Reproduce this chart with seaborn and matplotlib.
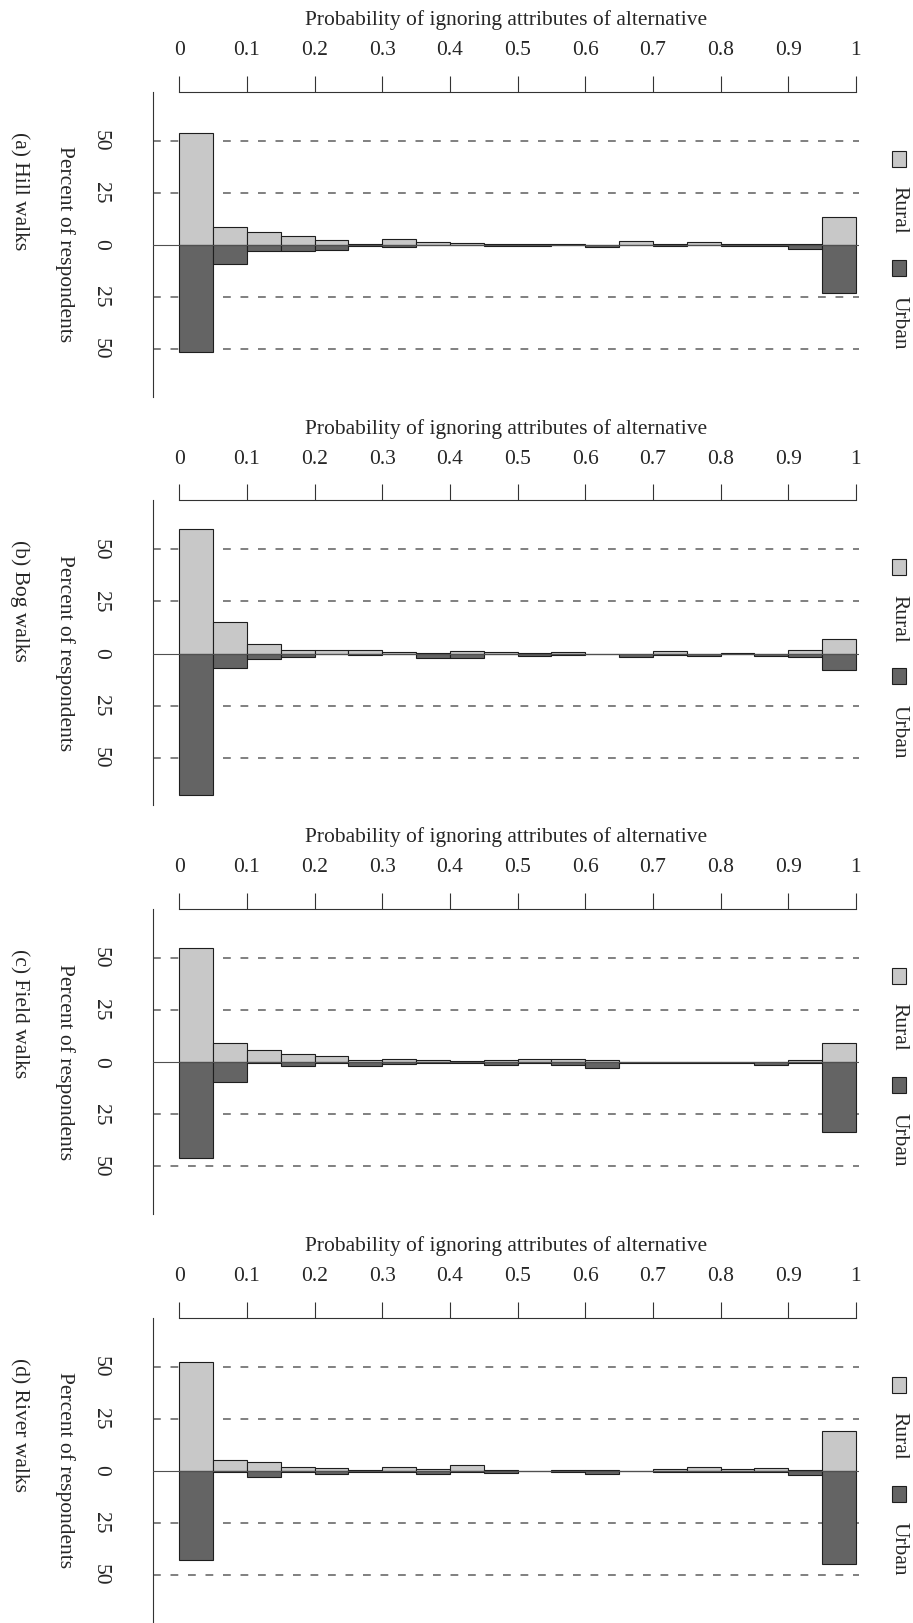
import numpy as np
import pandas as pd
import matplotlib
matplotlib.use("Agg")
import matplotlib.pyplot as plt
from matplotlib.patches import Rectangle
import seaborn as sns

sns.set_style("white")
plt.rcParams["font.family"] = ["Liberation Serif", "DejaVu Serif"]

# histogram bins (probability of ignoring attributes), width 0.05
bin_width = 0.05
bin_mids = np.round(np.arange(0.025, 1.0, bin_width), 3)

# percent of respondents per bin
hill_rural = [53.5, 8.5, 6.1, 4.2, 2.2, 0.6, 2.7, 1.3, 0.8, 0.5, 0.5, 0.4, 0.0, 1.6, 0.3, 1.3, 0.5, 0.5, 0.3, 13.3]
hill_urban = [51.6, 9.3, 3.2, 3.2, 2.6, 0.7, 1.1, 0.3, 0.3, 0.4, 0.4, 0.3, 1.1, 0.2, 0.6, 0.3, 0.6, 0.5, 2.1, 23.2]
bog_rural = [60.0, 15.3, 4.5, 1.9, 1.6, 1.6, 0.6, 0.3, 1.0, 0.5, 0.3, 0.5, 0.0, 0.0, 1.0, 0.0, 0.3, 0.0, 1.6, 6.9]
bog_urban = [68.0, 7.0, 2.6, 1.6, 0.3, 0.6, 0.3, 2.2, 2.2, 0.3, 1.3, 0.5, 0.0, 1.6, 0.6, 1.3, 0.3, 1.3, 1.6, 8.0]
field_rural = [54.9, 9.1, 5.9, 4.0, 3.2, 1.1, 1.6, 1.1, 0.6, 1.1, 1.6, 1.6, 1.0, 0.0, 0.2, 0.2, 0.2, 0.0, 1.1, 9.4]
field_urban = [45.9, 9.6, 0.6, 1.8, 0.3, 1.8, 0.8, 0.3, 0.5, 1.3, 0.5, 1.3, 2.7, 0.6, 0.2, 0.2, 0.2, 1.3, 0.3, 33.4]
river_rural = [52.2, 5.4, 4.5, 1.8, 1.6, 0.5, 1.8, 1.1, 2.9, 0.6, 0.2, 0.3, 0.6, 0.0, 1.1, 1.9, 1.1, 1.6, 0.6, 19.0]
river_urban = [42.9, 0.3, 2.7, 0.3, 1.3, 0.6, 0.3, 1.3, 0.3, 0.8, 0.2, 0.6, 1.3, 0.0, 0.6, 0.3, 0.6, 0.3, 1.8, 44.5]

captions = ["(a) Hill walks", "(b) Bog walks", "(c) Field walks", "(d) River walks"]
panels = [(hill_rural, hill_urban), (bog_rural, bog_urban),
          (field_rural, field_urban), (river_rural, river_urban)]

x_ticks = np.round(np.arange(0, 1.0001, 0.1), 1)
x_ticklabels = ["0"] + ["%.1f" % t for t in x_ticks[1:-1]] + ["1"]
y_ticks = [-50, -25, 0, 25, 50]
y_ticklabels = ["50", "25", "0", "25", "50"]
grid_levels = [-50, -25, 25, 50]

rural_col = "#c8c8c8"
urban_col = "#646464"
edge_col = "#1e1e1e"
axis_col = "#333333"
fs = 15.5

W, H = 913, 1623
fig = plt.figure(figsize=(W / 100, H / 100), dpi=100)


def fx(px):
    return px / W


def fy(py):
    return 1 - py / H


x0_px, x1_px, ax_left, ax_right = 179.3, 855.9, 153.3, 859.0
px_per = x1_px - x0_px
xlim = ((ax_left - x0_px) / px_per, (ax_right - x0_px) / px_per)

for k, ((rural, urban), cap) in enumerate(zip(panels, captions)):
    top = 91.7 + k * 408.7
    bottom = top + 305
    ax = fig.add_axes([fx(ax_left), fy(bottom), (ax_right - ax_left) / W, 305 / H])

    df = pd.DataFrame({"p": bin_mids, "rural": rural, "urban": -np.array(urban)})

    for lev in grid_levels:
        ax.axhline(lev, color="#808080", lw=1.4, linestyle=(0, (4, 5)), zorder=0)

    sns.histplot(data=df, x="p", weights="rural", binwidth=bin_width, binrange=(0, 1),
                 color=rural_col, edgecolor=edge_col, linewidth=0.8, alpha=1, ax=ax, zorder=2)
    sns.histplot(data=df, x="p", weights="urban", binwidth=bin_width, binrange=(0, 1),
                 color=urban_col, edgecolor=edge_col, linewidth=0.8, alpha=1, ax=ax, zorder=3)
    ax.axhline(0, color="#505050", lw=0.8, zorder=4)

    ax.set_xlim(*xlim)
    ax.set_ylim(-72.9, 73.5)

    for s in ["bottom", "right"]:
        ax.spines[s].set_visible(False)
    ax.spines["top"].set_bounds(0, 1)
    for s in ["top", "left"]:
        ax.spines[s].set_color(axis_col)
        ax.spines[s].set_linewidth(0.8)

    ax.xaxis.tick_top()
    ax.set_xticks(x_ticks)
    ax.set_xticklabels(x_ticklabels)
    ax.xaxis.set_label_position("top")
    ax.set_xlabel("Probability of ignoring attributes of alternative", fontsize=fs, labelpad=11.5)
    ax.tick_params(axis="x", direction="out", length=11.3, width=0.8, color=axis_col,
                   labelsize=fs, pad=11.5)

    ax.set_yticks(y_ticks)
    ax.set_yticklabels(y_ticklabels, rotation=-90, va="center")
    ax.tick_params(axis="y", direction="out", length=11.2, width=0.8, color=axis_col,
                   labelsize=fs, pad=20)
    ax.set_ylabel("Percent of respondents", rotation=-90, fontsize=fs, labelpad=26,
                  va="bottom")
    ax.grid(False)

    # caption for the panel
    fig.text(fx(19.5), fy(top + 40), cap, rotation=-90, fontsize=fs,
             ha="center", va="top")

    # legend, drawn sideways like the rest of the axis text
    for col, lab, sq_y, txt_y in [(rural_col, "Rural", top + 67, top + 118),
                                  (urban_col, "Urban", top + 176, top + 231)]:
        fig.patches.append(Rectangle((fx(892), fy(sq_y + 8)), 14 / W, 16 / H,
                                     transform=fig.transFigure, facecolor=col,
                                     edgecolor=edge_col, linewidth=0.8))
        fig.text(fx(899), fy(txt_y), lab, rotation=-90, fontsize=fs,
                 ha="center", va="center")

fig.savefig("out.png", dpi=100)
